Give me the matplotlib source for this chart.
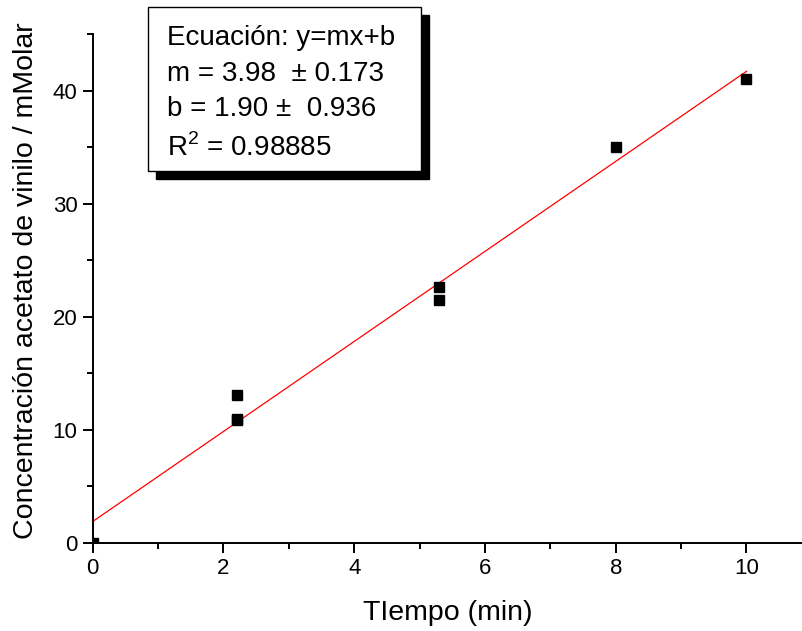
import matplotlib
matplotlib.use("Agg")
import matplotlib.pyplot as plt
from matplotlib.patches import Rectangle
from matplotlib.ticker import MultipleLocator
import numpy as np

plt.rcParams['font.family'] = ['Liberation Sans', 'DejaVu Sans']
plt.rcParams['mathtext.fontset'] = 'custom'
plt.rcParams['mathtext.rm'] = 'Liberation Sans'

# Data
tiempo = [0, 2.2, 2.2, 2.2, 5.3, 5.3, 8.0, 10.0]
concentracion = [0.0, 13.1, 11.0, 10.9, 22.6, 21.5, 35.0, 41.0]
m_fit = 3.98
b_fit = 1.90
fit_x = [0, 10]
xlabel = "TIempo (min)"
ylabel = "Concentración acetato de vinilo / mMolar"
box_lines = ["Ecuación: y=mx+b", "m = 3.98  \u00b1 0.173", "b = 1.90 \u00b1  0.936", "R$^{2}$ = 0.98885"]

W, H = 803, 631
fig = plt.figure(figsize=(W/100, H/100), dpi=100)

x0px, x10px = 92.7, 746.5
ppu = (x10px - x0px) / 10
xmax = (W - x0px) / ppu
top_px, bot_px = 34, 543
ax = fig.add_axes([x0px/W, 1 - bot_px/H, (W - x0px)/W, (bot_px - top_px)/H])
ax.set_xlim(0, xmax)
ax.set_ylim(0, 45)

ax.spines['top'].set_visible(False)
ax.spines['right'].set_visible(False)
for s in ['left', 'bottom']:
    ax.spines[s].set_linewidth(1.4)

ax.xaxis.set_major_locator(MultipleLocator(2))
ax.xaxis.set_minor_locator(MultipleLocator(1))
ax.yaxis.set_major_locator(MultipleLocator(10))
ax.yaxis.set_minor_locator(MultipleLocator(5))
ax.tick_params(which='major', direction='out', length=7, width=1.4, labelsize=16, pad=4)
ax.tick_params(which='minor', direction='out', length=4, width=1.4)

fx = np.array(fit_x, dtype=float)
ax.plot(fx, m_fit * fx + b_fit, color='red', lw=0.9, zorder=2)
ax.plot(tiempo, concentracion, 's', color='black', markersize=7, zorder=3)

ax.set_xlabel(xlabel, fontsize=20.5, labelpad=15)
ax.set_ylabel(ylabel, fontsize=20.5, labelpad=10)
ax.yaxis.label.set_y((543 - 281) / (543 - 34))

# Text box with shadow (pixel coordinates)
def fr(x, y, w, h, **kw):
    return Rectangle((x/W, 1 - (y + h)/H), w/W, h/H, transform=fig.transFigure, **kw)

bx, by, bw, bh = 148, 7, 273, 164
fig.patches.append(fr(bx + 8, by + 8, bw, bh, facecolor='black', edgecolor='black', lw=1, zorder=5))
fig.patches.append(fr(bx, by, bw, bh, facecolor='white', edgecolor='black', lw=1, zorder=6))

baselines = [45, 81, 116, 156]
for line, yb in zip(box_lines, baselines):
    fig.text(167/W, 1 - yb/H, line, fontsize=20, va='baseline', ha='left', zorder=7)

fig.savefig("out.png", dpi=100)
